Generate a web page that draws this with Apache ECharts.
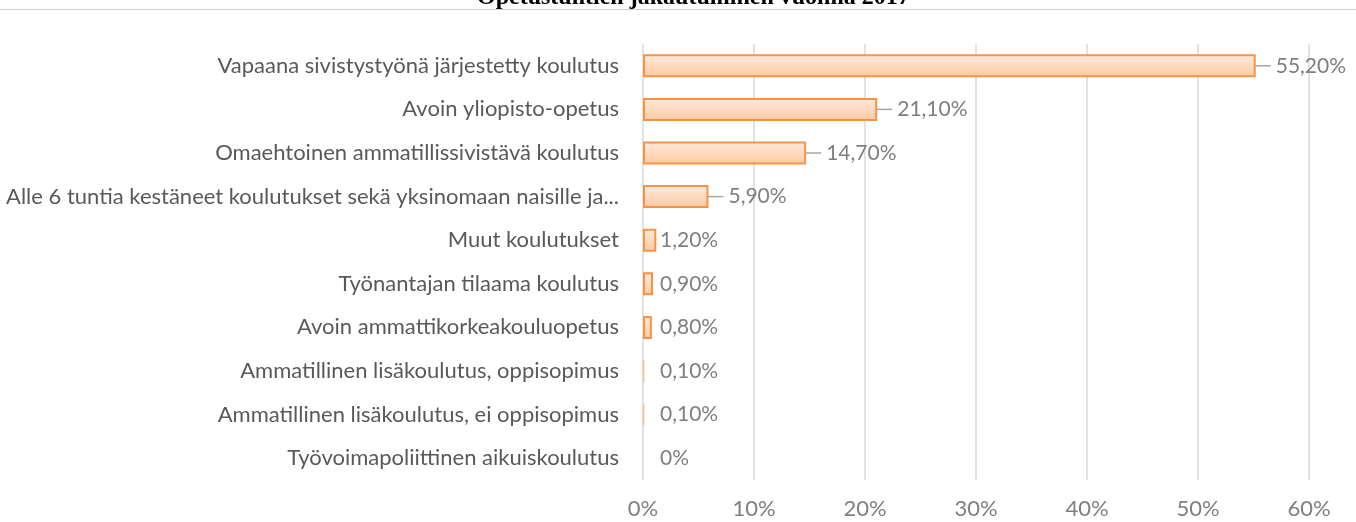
<!DOCTYPE html>
<html>
<head>
<meta charset="utf-8">
<script src="https://cdn.jsdelivr.net/npm/echarts@6/dist/echarts.min.js"></script>
<style>
html, body { margin: 0; padding: 0; background: #fff; }
#chart { width: 1356px; height: 522px; }
</style>
</head>
<body>
<div id="chart"></div>
<script>
// koulutusmuodot, ylhäältä alas
var categories = [
    'Vapaana sivistystyönä järjestetty koulutus',
    'Avoin yliopisto-opetus',
    'Omaehtoinen ammatillissivistävä koulutus',
    'Alle 6 tuntia kestäneet koulutukset sekä yksinomaan naisille ja...',
    'Muut koulutukset',
    'Työnantajan tilaama koulutus',
    'Avoin ammattikorkeakouluopetus',
    'Ammatillinen lisäkoulutus, oppisopimus',
    'Ammatillinen lisäkoulutus, ei oppisopimus',
    'Työvoimapoliittinen aikuiskoulutus'
];
var values = [55.2, 21.1, 14.7, 5.9, 1.2, 0.9, 0.8, 0.1, 0.1, 0];
var valueLabels = ['55,20%', '21,10%', '14,70%', '5,90%', '1,20%', '0,90%', '0,80%', '0,10%', '0,10%', '0%'];
var ticks = [0, 10, 20, 30, 40, 50, 60];

var myChart = echarts.init(document.getElementById('chart'));
var font = 'Lato, "Open Sans", sans-serif';

// isoille palkeille viiva arvoon, pienille ei
var barData = values.map(function (v) {
    var item = { value: v, labelLine: { show: v >= 5 } };
    if (v < 0.5) {
        item.itemStyle = { borderColor: '#f8bf93', borderWidth: v > 0 ? 1.5 : 0 };
    }
    return item;
});

var option = {
    animation: false,
    title: {
        text: 'Opetustuntien jakautuminen vuonna 2017',
        left: 472,
        top: -19,
        textStyle: {
            fontFamily: '"Liberation Serif", serif',
            fontWeight: 'bold',
            fontSize: 24,
            color: '#000'
        }
    },
    graphic: [{
        type: 'line',
        shape: { x1: 0, y1: 9.5, x2: 1356, y2: 9.5 },
        style: { stroke: '#d0d0d0', lineWidth: 1 }
    }],
    grid: { left: 643, right: 47, top: 44, bottom: 42 },
    xAxis: {
        type: 'value',
        min: 0,
        max: 60,
        interval: 10,
        axisLine: { show: false },
        axisTick: { show: false },
        splitLine: { lineStyle: { color: '#d9d9d9', width: 1.5 } },
        axisLabel: {
            margin: 18,
            color: '#7f7f7f',
            fontSize: 22,
            fontFamily: font,
            formatter: function (v) { return ticks.indexOf(v) >= 0 ? v + '%' : ''; }
        }
    },
    yAxis: {
        type: 'category',
        inverse: true,
        data: categories,
        axisLine: { show: false },
        axisTick: { show: false },
        axisLabel: {
            margin: 24,
            color: '#595959',
            fontSize: 22,
            fontFamily: font
        }
    },
    series: [{
        type: 'bar',
        data: barData,
        barWidth: 23,
        itemStyle: {
            borderColor: '#f59446',
            borderWidth: 2,
            color: new echarts.graphic.LinearGradient(0, 0, 0, 1, [
                { offset: 0, color: '#feebdd' },
                { offset: 1, color: '#fcc8a0' }
            ])
        },
        label: {
            show: true,
            position: 'right',
            distance: 2,
            color: '#7f7f7f',
            fontSize: 21,
            fontFamily: font,
            // pieni rako viivan ja tekstin väliin
            formatter: function (p) { return '{g|}' + valueLabels[p.dataIndex]; },
            rich: { g: { width: 5 } }
        },
        labelLine: {
            lineStyle: { color: '#a6a6a6', width: 1.5 }
        },
        labelLayout: function (p) {
            if (values[p.dataIndex] >= 5) {
                return { dx: 13 };
            }
            return { dx: 655 - p.labelRect.x };
        }
    }]
};

myChart.setOption(option);
</script>
</body>
</html>
